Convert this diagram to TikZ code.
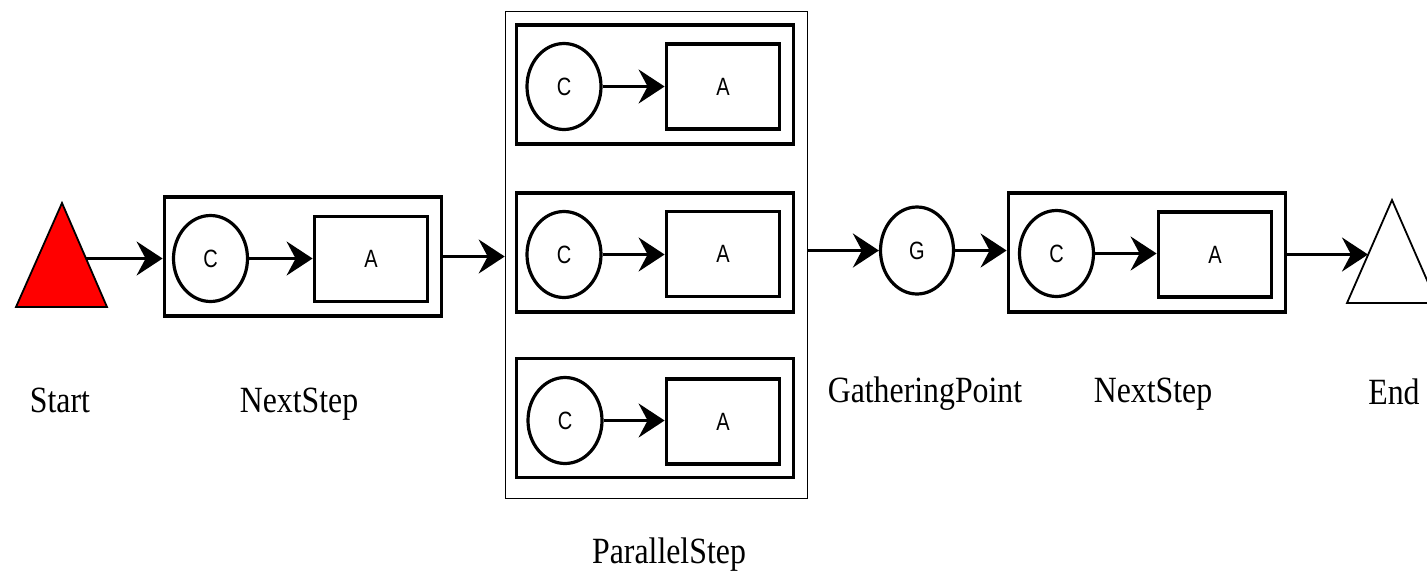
\documentclass[tikz,border=0pt]{standalone}
\usepackage{fontspec}
\usetikzlibrary{shapes.geometric,arrows.meta}
\newfontfamily\lblfont[FakeStretch=0.86]{Liberation Serif}
\newfontfamily\letfont[FakeStretch=0.8]{Liberation Sans}
\begin{document}
\begin{tikzpicture}[x=1pt,y=-1pt,
  stepframe/.style={draw,line width=3.8pt,rectangle,minimum width=277pt,minimum height=119pt,inner sep=0pt},
  parframe/.style={draw,line width=1.6pt,rectangle,minimum width=302pt,minimum height=487pt,inner sep=0pt},
  condnode/.style={draw,line width=3.2pt,ellipse,minimum width=74pt,minimum height=86pt,inner sep=0pt,font=\letfont\fontsize{25}{25}\selectfont},
  actnode/.style={draw,line width=3.8pt,rectangle,minimum width=113pt,minimum height=85pt,inner sep=0pt,font=\letfont\fontsize{25}{25}\selectfont},
  flow/.style={line width=3pt,-{Stealth[length=26pt,width=34pt,inset=9pt]}},
  caption/.style={anchor=base,inner sep=0pt,font=\lblfont\fontsize{37}{40}\selectfont},
  tri/.style={draw,line width=1.8pt,line join=miter}
]
\useasboundingbox (0,0) rectangle (1427,574);
\fill[white] (0,0) rectangle (1427,574);
\clip (0,0) rectangle (1427,574);

% Start triangle
\draw[tri,fill=red] (16,307) -- (62,203) -- (107,307) -- cycle;
\coordinate (startR) at (86,258.5);

% NextStep 1
\node[stepframe] (ns1) at (303,256.5) {};
\node[condnode] (c1) at (210.5,258.5) {C};
\node[actnode] (a1) at (371,259) {A};

% Parallel step
\node[parframe] (par) at (656.5,255) {};
\node[stepframe] (p1) at (655,84.5) {};
\node[condnode] (pc1) at (564,86.5) {C};
\node[actnode] (pa1) at (723,86.5) {A};
\node[stepframe] (p2) at (655,252.5) {};
\node[condnode] (pc2) at (564,254.5) {C};
\node[actnode] (pa2) at (723,254) {A};
\node[stepframe] (p3) at (655,418) {};
\node[condnode] (pc3) at (565,420.5) {C};
\node[actnode] (pa3) at (723,421.5) {A};

% Gathering point
\node[condnode,minimum width=73pt,minimum height=87pt] (g) at (917,250.5) {G};

% NextStep 2
\node[stepframe] (ns2) at (1147,252.5) {};
\node[condnode] (c2) at (1056.5,253.5) {C};
\node[actnode] (a2) at (1215,254.5) {A};

% End triangle
\draw[tri,fill=white] (1347,303) -- (1392,200) -- (1437,303) -- cycle;
\coordinate (endL) at (1368,254.5);

% connectors
\draw[flow] (startR) -- (startR -| ns1.west);
\draw[flow] (c1.east) -- (c1.east -| a1.west);
\draw[flow] (ns1.east) -- (ns1.east -| par.west);
\draw[flow] (pc1.east) -- (pc1.east -| pa1.west);
\draw[flow] (pc2.east) -- (pc2.east -| pa2.west);
\draw[flow] (pc3.east) -- (pc3.east -| pa3.west);
\draw[flow] (g.west -| par.east) -- (g.west);
\draw[flow] (g.east) -- (g.east -| ns2.west);
\draw[flow] (c2.east) -- (c2.east -| a2.west);
\draw[flow] (endL -| ns2.east) -- (endL);

% captions
\node[caption] (lstart) at (60,412) {Start};
\node[caption] (lns1) at (299,412) {NextStep};
\node[caption] (lpar) at (669,563) {ParallelStep};
\node[caption] (lg) at (925,402) {GatheringPoint};
\node[caption] (lns2) at (1153,402) {NextStep};
\node[caption] (lend) at (1394,404) {End};
\end{tikzpicture}
\end{document}
